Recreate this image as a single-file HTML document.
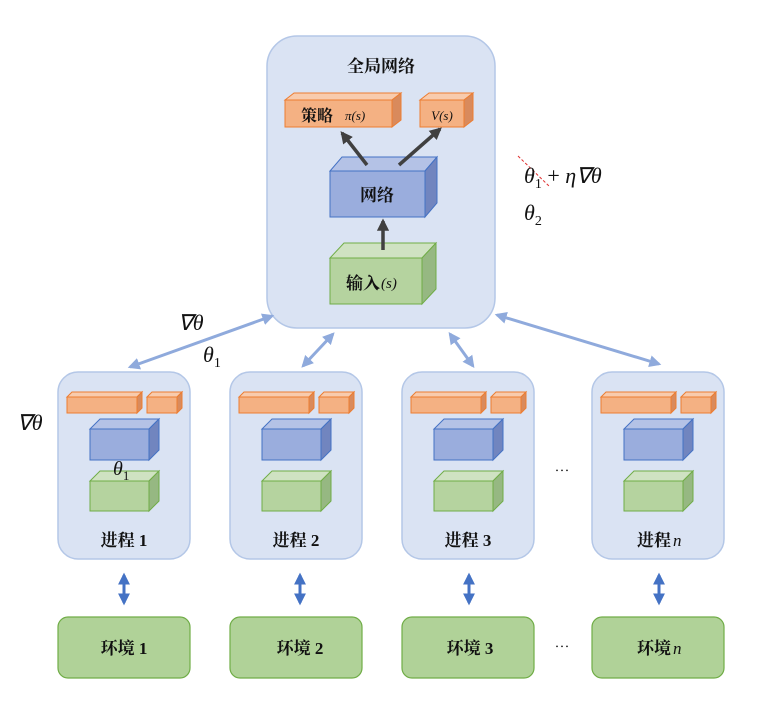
<!DOCTYPE html>
<html><head><meta charset="utf-8"><style>
body{margin:0;background:#fff}
text{font-family:"Liberation Serif","Noto Serif CJK SC",serif;fill:#111}
.cn{font-family:"Liberation Serif","Noto Serif CJK SC","Noto Sans CJK SC",serif;font-weight:bold}
.m{font-family:"Liberation Serif",serif;font-style:italic}
</style></head><body>
<svg width="774" height="706" viewBox="0 0 774 706" xmlns="http://www.w3.org/2000/svg">
<defs>
<marker id="ab" viewBox="0 0 10 10" refX="8" refY="5" markerWidth="4" markerHeight="4" orient="auto-start-reverse"><path d="M0,0L10,5L0,10z" fill="#8faadc"/></marker>
<marker id="ad" viewBox="0 0 10 10" refX="8" refY="5" markerWidth="4" markerHeight="4" orient="auto-start-reverse"><path d="M0,0L10,5L0,10z" fill="#4472c4"/></marker>
<marker id="ak" viewBox="0 0 10 10" refX="8" refY="5" markerWidth="3.5" markerHeight="3.5" orient="auto"><path d="M0,0L10,5L0,10z" fill="#404040"/></marker>
<g id="mini">
 <path d="M9,397h70l5,-5h-70z" fill="#f8cbad" stroke="#ed7d31" stroke-width="1"/>
 <rect x="9" y="397" width="70" height="16" fill="#f4b183" stroke="#ed7d31"/>
 <path d="M79,397l5,-5v16l-5,5z" fill="#d98a5c" stroke="#ed7d31"/>
 <path d="M89,397h30l5,-5h-30z" fill="#f8cbad" stroke="#ed7d31"/>
 <rect x="89" y="397" width="30" height="16" fill="#f4b183" stroke="#ed7d31"/>
 <path d="M119,397l5,-5v16l-5,5z" fill="#d98a5c" stroke="#ed7d31"/>
 <path d="M32,429h59l10,-10h-59z" fill="#b4c2e6" stroke="#4472c4"/>
 <rect x="32" y="429" width="59" height="31" fill="#9aaddd" stroke="#4472c4"/>
 <path d="M91,429l10,-10v31l-10,10z" fill="#7185bf" stroke="#4472c4"/>
 <path d="M32,481h59l10,-10h-59z" fill="#cfe2c2" stroke="#70ad47"/>
 <rect x="32" y="481" width="59" height="30" fill="#b5d39f" stroke="#70ad47"/>
 <path d="M91,481l10,-10v30l-10,10z" fill="#96b882" stroke="#70ad47"/>
</g>
</defs>

<!-- global -->
<rect x="267" y="36" width="228" height="292" rx="30" fill="#dae3f3" stroke="#b4c7e7" stroke-width="1.5"/>
<text x="381" y="72" class="cn" font-size="17" text-anchor="middle">全局网络</text>
<path d="M285,100h107l9,-7h-107z" fill="#f8cbad" stroke="#ed7d31"/>
<rect x="285" y="100" width="107" height="27" fill="#f4b183" stroke="#ed7d31"/>
<path d="M392,100l9,-7v27l-9,7z" fill="#d98a5c" stroke="#ed7d31"/>
<text x="301" y="121" class="cn" font-size="16">策略</text><text x="345" y="120" class="m" font-size="13">π(s)</text>
<path d="M420,100h44l9,-7h-44z" fill="#f8cbad" stroke="#ed7d31"/>
<rect x="420" y="100" width="44" height="27" fill="#f4b183" stroke="#ed7d31"/>
<path d="M464,100l9,-7v27l-9,7z" fill="#d98a5c" stroke="#ed7d31"/>
<text x="442" y="120" class="m" font-size="13" text-anchor="middle">V(s)</text>
<path d="M330,171h95l12,-14h-95z" fill="#b4c2e6" stroke="#4472c4"/>
<rect x="330" y="171" width="95" height="46" fill="#9aaddd" stroke="#4472c4"/>
<path d="M425,171l12,-14v46l-12,14z" fill="#7185bf" stroke="#4472c4"/>
<text x="377" y="201" class="cn" font-size="17" text-anchor="middle">网络</text>
<path d="M330,258h92l14,-15h-92z" fill="#cfe2c2" stroke="#70ad47"/>
<rect x="330" y="258" width="92" height="46" fill="#b5d39f" stroke="#70ad47"/>
<path d="M422,258l14,-15v46l-14,15z" fill="#96b882" stroke="#70ad47"/>
<text x="346" y="289" class="cn" font-size="17">输入</text><text x="381" y="288" class="m" font-size="15">(s)</text>
<g stroke="#404040" stroke-width="3.5" fill="none">
<line x1="367" y1="165" x2="342" y2="133" marker-end="url(#ak)"/>
<line x1="399" y1="165" x2="440" y2="129" marker-end="url(#ak)"/>
<line x1="383" y1="250" x2="383" y2="221" marker-end="url(#ak)"/>
</g>

<!-- formulas -->
<line x1="518" y1="156" x2="550" y2="187" stroke="#e03030" stroke-width="1" stroke-dasharray="3,2"/>
<text x="524" y="183" class="m" font-size="22">θ<tspan font-size="14" dy="5" font-style="normal">1</tspan><tspan dy="-5" font-style="normal"> + </tspan>η∇θ</text>
<text x="524" y="220" class="m" font-size="22">θ<tspan font-size="14" dy="5" font-style="normal">2</tspan></text>
<text x="178" y="330" class="m" font-size="22">∇θ</text>
<text x="203" y="362" class="m" font-size="22">θ<tspan font-size="14" dy="5" font-style="normal">1</tspan></text>
<text x="17" y="430" class="m" font-size="22">∇θ</text>

<!-- connectors -->
<g stroke="#8faadc" stroke-width="3" fill="none">
<line x1="130" y1="367" x2="272" y2="316" marker-start="url(#ab)" marker-end="url(#ab)"/>
<line x1="303" y1="366" x2="333" y2="334" marker-start="url(#ab)" marker-end="url(#ab)"/>
<line x1="450" y1="334" x2="473" y2="366" marker-start="url(#ab)" marker-end="url(#ab)"/>
<line x1="497" y1="315" x2="659" y2="364" marker-start="url(#ab)" marker-end="url(#ab)"/>
</g>

<!-- processes -->
<g>
<rect x="58" y="372" width="132" height="187" rx="20" fill="#dae3f3" stroke="#b4c7e7" stroke-width="1.5"/>
<use href="#mini" x="58"/>
<rect x="230" y="372" width="132" height="187" rx="20" fill="#dae3f3" stroke="#b4c7e7" stroke-width="1.5"/>
<use href="#mini" x="230"/>
<rect x="402" y="372" width="132" height="187" rx="20" fill="#dae3f3" stroke="#b4c7e7" stroke-width="1.5"/>
<use href="#mini" x="402"/>
<rect x="592" y="372" width="132" height="187" rx="20" fill="#dae3f3" stroke="#b4c7e7" stroke-width="1.5"/>
<use href="#mini" x="592"/>
</g>
<text x="113" y="475" class="m" font-size="20">θ<tspan font-size="13" dy="5" font-style="normal">1</tspan></text>
<g font-size="17">
<text x="124" y="546" class="cn" text-anchor="middle">进程 1</text>
<text x="296" y="546" class="cn" text-anchor="middle">进程 2</text>
<text x="468" y="546" class="cn" text-anchor="middle">进程 3</text>
<text x="637" y="546" class="cn">进程</text><text x="673" y="546" class="m">n</text>
</g>
<text x="562" y="476" font-size="15" text-anchor="middle">⋯</text>
<text x="562" y="652" font-size="15" text-anchor="middle">⋯</text>

<!-- env arrows -->
<g stroke="#4472c4" stroke-width="3">
<line x1="124" y1="575" x2="124" y2="603" marker-start="url(#ad)" marker-end="url(#ad)"/>
<line x1="300" y1="575" x2="300" y2="603" marker-start="url(#ad)" marker-end="url(#ad)"/>
<line x1="469" y1="575" x2="469" y2="603" marker-start="url(#ad)" marker-end="url(#ad)"/>
<line x1="659" y1="575" x2="659" y2="603" marker-start="url(#ad)" marker-end="url(#ad)"/>
</g>

<!-- envs -->
<g fill="#b0d298" stroke="#70ad47" stroke-width="1.2">
<rect x="58" y="617" width="132" height="61" rx="10"/>
<rect x="230" y="617" width="132" height="61" rx="10"/>
<rect x="402" y="617" width="132" height="61" rx="10"/>
<rect x="592" y="617" width="132" height="61" rx="10"/>
</g>
<g font-size="17">
<text x="124" y="654" class="cn" text-anchor="middle">环境 1</text>
<text x="300" y="654" class="cn" text-anchor="middle">环境 2</text>
<text x="470" y="654" class="cn" text-anchor="middle">环境 3</text>
<text x="637" y="654" class="cn">环境</text><text x="673" y="654" class="m">n</text>
</g>
</svg>
</body></html>
